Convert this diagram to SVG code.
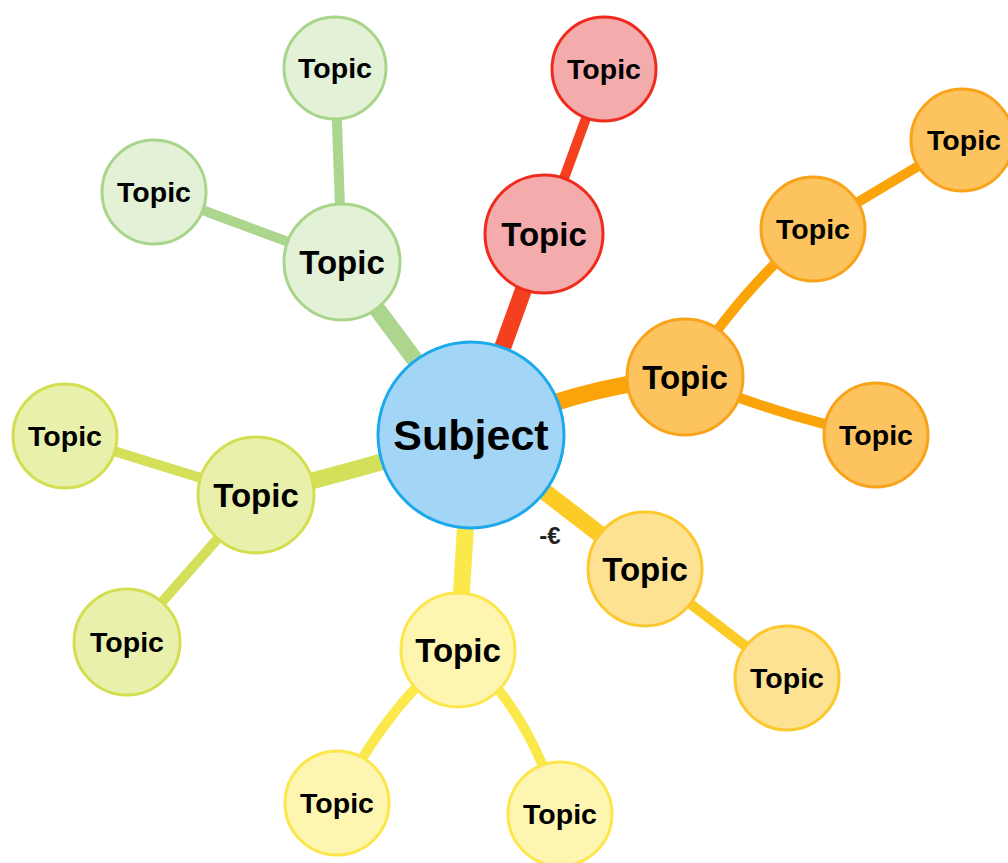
<svg xmlns="http://www.w3.org/2000/svg" width="1008" height="863" viewBox="0 0 1008 863">
<style>
.lbl{font-family:"Liberation Sans",Arial,sans-serif;font-weight:bold;fill:#000;text-anchor:middle}
.big{font-size:33px}
.sm{font-size:28.5px}
.c{fill:none;stroke-linecap:round}
.main{stroke-width:17}
.sub{stroke-width:10}
.n{stroke-width:3}
.red{fill:#f4abab;stroke:#ef2b1d}
.grn{fill:#e3f1d7;stroke:#a9d58b}
.org{fill:#fcc35f;stroke:#f9a31a}
.yg{fill:#e9f0ab;stroke:#d3de50}
.yel{fill:#fef5b0;stroke:#fde64a}
.gld{fill:#fde294;stroke:#fdc82b}
</style>
<rect width="1008" height="863" fill="#fff"/>
<g id="connectors">
<path class="c main" stroke="#f5401f" d="M471,435 L544,233"/>
<path class="c sub" stroke="#f5401f" d="M544,233 L604,69"/>
<path class="c main" stroke="#acd58e" d="M471,435 L342,262"/>
<path class="c sub" stroke="#acd58e" d="M342,262 L335,68"/>
<path class="c sub" stroke="#acd58e" d="M342,262 L154,192"/>
<path class="c main" stroke="#fba40a" d="M471,435 Q580,385 685,377"/>
<path class="c sub" stroke="#fba40a" d="M685,377 Q740,290 813,229"/>
<path class="c sub" stroke="#fba40a" stroke-width="9" d="M813,229 L962,140"/>
<path class="c sub" stroke="#fba40a" d="M685,377 Q790,420 876,435"/>
<path class="c main" stroke="#d5e05a" d="M471,435 Q360,470 256,495"/>
<path class="c sub" stroke="#d5e05a" d="M256,495 L65,436"/>
<path class="c sub" stroke="#d5e05a" d="M256,495 L127,642"/>
<path class="c main" stroke="#fbe84a" stroke-width="15" d="M471,435 L458,650"/>
<path class="c sub" stroke="#fbe84a" d="M458,650 Q390,700 337,803"/>
<path class="c sub" stroke="#fbe84a" d="M458,650 Q525,700 560,813"/>
<path class="c main" stroke="#fccb25" stroke-width="14" d="M471,435 L645,569"/>
<path class="c sub" stroke="#fccb25" d="M645,569 L787,678"/>
</g>
<g id="subject">
<circle cx="471" cy="435" r="93" fill="#a3d5f6" stroke="#1ba9ec" stroke-width="3"/>
<text class="lbl" x="471" y="450" font-size="43">Subject</text>
</g>
<g id="red1"><circle class="n red" cx="544" cy="234" r="59"/><text class="lbl big" x="544" y="246">Topic</text></g>
<g id="red2"><circle class="n red" cx="604" cy="69" r="52"/><text class="lbl sm" x="604" y="79">Topic</text></g>
<g id="grn1"><circle class="n grn" cx="342" cy="262" r="58"/><text class="lbl big" x="342" y="274">Topic</text></g>
<g id="grn2"><circle class="n grn" cx="335" cy="68" r="51"/><text class="lbl sm" x="335" y="78">Topic</text></g>
<g id="grn3"><circle class="n grn" cx="154" cy="192" r="52"/><text class="lbl sm" x="154" y="202">Topic</text></g>
<g id="org1"><circle class="n org" cx="685" cy="377" r="58"/><text class="lbl big" x="685" y="389">Topic</text></g>
<g id="org2"><circle class="n org" cx="813" cy="229" r="52"/><text class="lbl sm" x="813" y="239">Topic</text></g>
<g id="org3"><circle class="n org" cx="962" cy="140" r="51"/><text class="lbl sm" x="964" y="150">Topic</text></g>
<g id="org4"><circle class="n org" cx="876" cy="435" r="52"/><text class="lbl sm" x="876" y="445">Topic</text></g>
<g id="yg1"><circle class="n yg" cx="256" cy="495" r="58"/><text class="lbl big" x="256" y="507">Topic</text></g>
<g id="yg2"><circle class="n yg" cx="65" cy="436" r="52"/><text class="lbl sm" x="65" y="446">Topic</text></g>
<g id="yg3"><circle class="n yg" cx="127" cy="642" r="53"/><text class="lbl sm" x="127" y="652">Topic</text></g>
<g id="yel1"><circle class="n yel" cx="458" cy="650" r="57"/><text class="lbl big" x="458" y="662">Topic</text></g>
<g id="yel2"><circle class="n yel" cx="337" cy="803" r="52"/><text class="lbl sm" x="337" y="813">Topic</text></g>
<g id="yel3"><circle class="n yel" cx="560" cy="814" r="52"/><text class="lbl sm" x="560" y="824">Topic</text></g>
<g id="gld1"><circle class="n gld" cx="645" cy="569" r="57"/><text class="lbl big" x="645" y="581">Topic</text></g>
<g id="gld2"><circle class="n gld" cx="787" cy="678" r="52"/><text class="lbl sm" x="787" y="688">Topic</text></g>
<text x="550" y="544" font-family="'Liberation Sans',Arial,sans-serif" font-size="24" font-weight="bold" fill="#222" text-anchor="middle">-€</text>
</svg>
